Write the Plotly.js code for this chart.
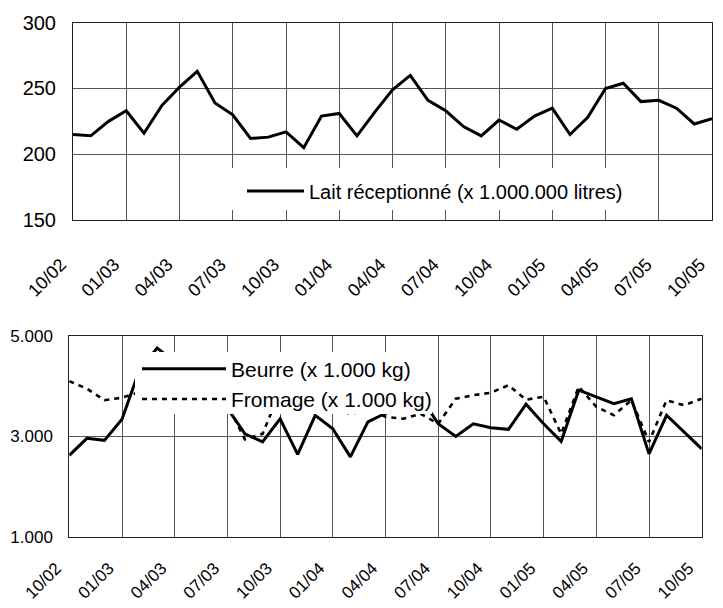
<!DOCTYPE html>
<html>
<head>
<meta charset="utf-8">
<script src="https://cdn.plot.ly/plotly-3.0.1.min.js"></script>
<style>html,body{margin:0;padding:0;background:#fff;}#chart{width:723px;height:608px;}</style>
</head>
<body>
<div id="chart"></div>
<script>
// Months (categories)
const months = ["10/02","11/02","12/02","01/03","02/03","03/03","04/03","05/03","06/03","07/03","08/03","09/03",
  "10/03","11/03","12/03","01/04","02/04","03/04","04/04","05/04","06/04","07/04","08/04","09/04",
  "10/04","11/04","12/04","01/05","02/05","03/05","04/05","05/05","06/05","07/05","08/05","09/05","10/05"];
// Tick labels
const tickLabels = ["10/02","01/03","04/03","07/03","10/03","01/04","04/04","07/04","10/04","01/05","04/05","07/05","10/05"];
// Lait réceptionné (x 1.000.000 litres)
const lait = [215,214,225,233,216,237,251,263,239,230,212,213,217,205,229,231,214,232,249,260,241,233,221,214,
  226,219,229,235,215,228,250,254,240,241,235,223,227];
// Beurre (x 1.000 kg)
const beurre = [2620,2960,2920,3340,4330,4760,4490,4200,3900,3560,3050,2890,3350,2640,3420,3150,2590,3290,3460,3600,3790,3250,3000,3250,
  3170,3140,3640,3250,2900,3920,3790,3650,3750,2650,3420,3090,2750];
// Fromage (x 1.000 kg)
const fromage = [4100,3950,3720,3770,3880,3800,3750,3700,3650,3630,2940,3050,3900,3600,3550,3600,3440,3550,3390,3350,3450,3250,3750,3820,
  3870,4020,3730,3790,3050,3990,3590,3420,3720,2890,3720,3620,3750];
// Y tick values / labels
const yTop = [150,200,250,300];
const yBot = [1000,3000,5000];
const yBotText = ["1.000","3.000","5.000"];

const W = 723, H = 608;
const px = v => v / W, py = v => 1 - v / H;
const font = "Arial, 'Liberation Sans', sans-serif";

const traces = [
  {x: months, y: lait, xaxis: 'x', yaxis: 'y', type: 'scatter', mode: 'lines',
   name: 'Lait réceptionné (x 1.000.000 litres)', line: {color: '#000', width: 3}, legend: 'legend'},
  {x: months, y: beurre, xaxis: 'x2', yaxis: 'y2', type: 'scatter', mode: 'lines',
   name: 'Beurre (x 1.000 kg)', line: {color: '#000', width: 3}, legend: 'legend2'},
  {x: months, y: fromage, xaxis: 'x2', yaxis: 'y2', type: 'scatter', mode: 'lines',
   name: 'Fromage (x 1.000 kg)', line: {color: '#000', width: 2.6, dash: '5px,5px'}, legend: 'legend2'}
];

const gridC = '#555', lineC = '#222';
const xCommon = {
  type: 'category', range: [0, 36], tickmode: 'array', tickvals: tickLabels, ticktext: tickLabels,
  tickangle: -45, showgrid: true, gridcolor: gridC, gridwidth: 1, showline: true, linecolor: lineC,
  linewidth: 1, mirror: true, ticks: '', zeroline: false, automargin: false
};

const layout = {
  width: W, height: H, margin: {l: 0, r: 0, t: 0, b: 0},
  paper_bgcolor: '#fff', plot_bgcolor: '#fff',
  font: {family: font, color: '#000'},
  showlegend: true,
  xaxis: Object.assign({}, xCommon, {domain: [px(73), px(712)], anchor: 'y',
    tickfont: {size: 18, family: font, color: '#000'}, ticklabelstandoff: 26, ticklabelshift: -12}),
  yaxis: {domain: [py(220), py(22.7)], range: [150, 300], tickmode: 'array', tickvals: yTop,
    showgrid: true, gridcolor: gridC, gridwidth: 1, showline: true, linecolor: lineC, mirror: true,
    ticks: '', zeroline: false, anchor: 'x', tickfont: {size: 20, family: font, color: '#000'}, ticklabelstandoff: 12},
  xaxis2: Object.assign({}, xCommon, {domain: [px(69.3), px(701.7)], anchor: 'y2',
    tickfont: {size: 17, family: font, color: '#000'}, ticklabelstandoff: 14, ticklabelshift: -13}),
  yaxis2: {domain: [py(536.7), py(336)], range: [1000, 5000], tickmode: 'array', tickvals: yBot, ticktext: yBotText,
    showgrid: true, gridcolor: gridC, gridwidth: 1, showline: true, linecolor: lineC, mirror: true,
    ticks: '', zeroline: false, anchor: 'x2', tickfont: {size: 17, family: font, color: '#000'}, ticklabelstandoff: 12},
  legend: {x: px(242), xanchor: 'left', y: py(191), yanchor: 'middle', bgcolor: 'rgba(0,0,0,0)',
    font: {size: 20, family: font, color: '#000'}, itemwidth: 57, borderwidth: 0},
  legend2: {x: px(137), xanchor: 'left', y: py(384), yanchor: 'middle', bgcolor: 'rgba(0,0,0,0)',
    font: {size: 21, family: font, color: '#000'}, itemwidth: 84, borderwidth: 0, tracegroupgap: 0},
  shapes: [
    {type: 'rect', xref: 'paper', yref: 'paper', layer: 'above', x0: px(215), x1: px(650), y0: py(210), y1: py(168),
     fillcolor: '#fff', line: {width: 0}},
    {type: 'rect', xref: 'paper', yref: 'paper', layer: 'above', x0: px(135), x1: px(432), y0: py(414), y1: py(352),
     fillcolor: '#fff', line: {width: 0}}
  ]
};

Plotly.newPlot('chart', traces, layout, {staticPlot: true, displayModeBar: false});
</script>
</body>
</html>
